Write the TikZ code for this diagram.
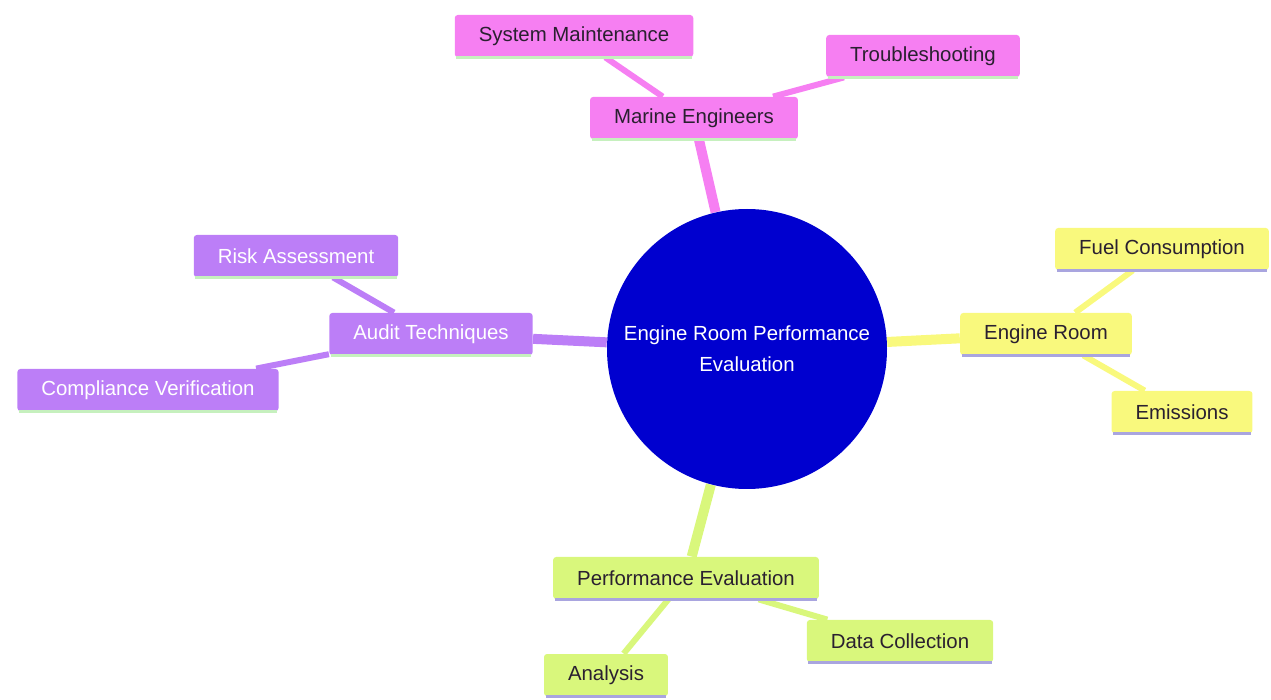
\documentclass[tikz,border=0pt]{standalone}
\usepackage{fontspec}
\setmainfont{Liberation Sans}
\usetikzlibrary{
  backgrounds,  % Layer "background" for the branches
}
\definecolor{rootblue}{HTML}{0000CF}
\definecolor{pinkfill}{HTML}{F67FF2}
\definecolor{lilacfill}{HTML}{BC7EF7}
\definecolor{lemonfill}{HTML}{F9F97D}
\definecolor{limefill}{HTML}{D9F77C}
\definecolor{greenline}{HTML}{C6F0BE}
\definecolor{lavline}{HTML}{A9A5DF}
\definecolor{darktext}{HTML}{2A2030}
\tikzset{
  font=\fontsize{10.2}{15.5}\selectfont,
  x=0.5pt,
  y=-0.5pt,
  topic/.style={
    rectangle,
    rounded corners=1.5pt,
    inner xsep=12pt,
    minimum height=21pt,
    text=darktext
  },
  pink topic/.style={topic, fill=pinkfill},
  lilac topic/.style={topic, fill=lilacfill, text=white},
  lemon topic/.style={topic, fill=lemonfill},
  lime topic/.style={topic, fill=limefill},
  root/.style={
    circle,
    fill=rootblue,
    text=white,
    minimum size=140pt,
    inner sep=0pt,
    align=center
  },
  main branch/.style={line width=5pt},
  sub branch/.style={line width=3pt},
  under/.style={line width=1.5pt}
}

\begin{document}
\begin{tikzpicture}
\useasboundingbox (0,0) rectangle (1271,700);
\node[root] (root) at (747,349) {Engine Room Performance\\Evaluation};
% pink branch
\node[pink topic] (marine) at (694,118) {Marine Engineers};
\node[pink topic] (sysmaint) at (574,36) {System Maintenance};
\node[pink topic] (trouble) at (923,56) {Troubleshooting};
% lilac branch
\node[lilac topic] (audit) at (431,334) {Audit Techniques};
\node[lilac topic] (risk) at (296,256) {Risk Assessment};
\node[lilac topic] (compliance) at (148,390) {Compliance Verification};
% yellow branch
\node[lemon topic] (engine) at (1046,334) {Engine Room};
\node[lemon topic] (fuel) at (1162,249) {Fuel Consumption};
\node[lemon topic] (emis) at (1182,412) {Emissions};
% green branch
\node[lime topic] (perf) at (686,578) {Performance Evaluation};
\node[lime topic] (datacoll) at (900,641) {Data Collection};
\node[lime topic] (analysis) at (606,675) {Analysis};

\begin{scope}[on background layer]
  \draw[main branch, pinkfill] (root) -- (marine);
  \draw[sub branch, pinkfill] (marine) -- (sysmaint);
  \draw[sub branch, pinkfill] (marine) -- (trouble);
  \draw[main branch, lilacfill] (root) -- (audit);
  \draw[sub branch, lilacfill] (audit) -- (risk);
  \draw[sub branch, lilacfill] (audit) -- (compliance);
  \draw[main branch, lemonfill] (root) -- (engine);
  \draw[sub branch, lemonfill] (engine) -- (fuel);
  \draw[sub branch, lemonfill] (engine) -- (emis);
  \draw[main branch, limefill] (root) -- (perf);
  \draw[sub branch, limefill] (perf) -- (datacoll);
  \draw[sub branch, limefill] (perf) -- (analysis);
\end{scope}

\foreach \n/\c in {marine/greenline, sysmaint/greenline, trouble/greenline,
                   audit/greenline, risk/greenline, compliance/greenline,
                   engine/lavline, fuel/lavline, emis/lavline,
                   perf/lavline, datacoll/lavline, analysis/lavline}
  \draw[under, \c] ([xshift=1pt]\n.south west) -- ([xshift=-1pt]\n.south east);
\end{tikzpicture}
\end{document}
